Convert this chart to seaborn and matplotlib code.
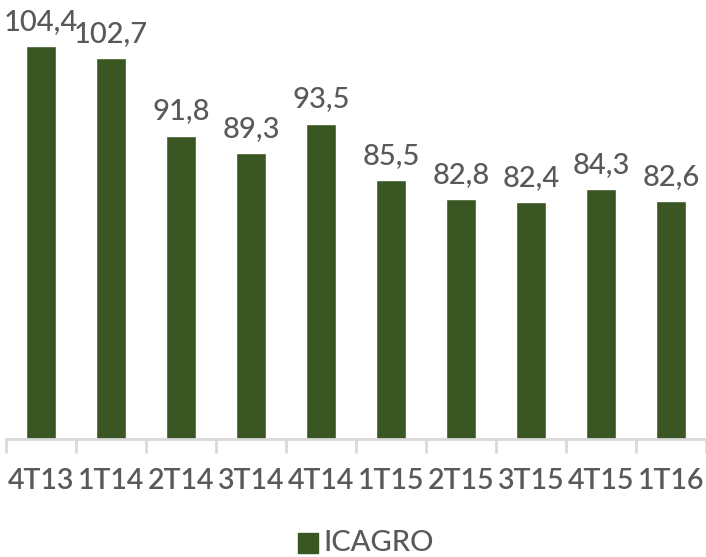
import matplotlib
matplotlib.use("Agg")
import matplotlib.pyplot as plt
import seaborn as sns
import pandas as pd

quarters = ["4T13", "1T14", "2T14", "3T14", "4T14", "1T15", "2T15", "3T15", "4T15", "1T16"]
icagro = [104.4, 102.7, 91.8, 89.3, 93.5, 85.5, 82.8, 82.4, 84.3, 82.6]
series_name = "ICAGRO"

sns.set_theme(style="white")
plt.rcParams["font.family"] = ["Lato", "DejaVu Sans"]

df = pd.DataFrame({"quarter": quarters, "value": icagro, "series": series_name})

bar_color = "#3a5723"
text_color = "#595959"
axis_color = "#d9d9d9"

fig = plt.figure(figsize=(7.06, 5.57), dpi=100)
ax = fig.add_axes([6 / 706, 1 - 439 / 557, 700 / 706, 428 / 557])

sns.barplot(data=df, x="quarter", y="value", hue="series", palette=[bar_color],
            width=0.44, ax=ax, legend=False, saturation=1)

ax.set_ylim(49, 109.4)
ax.set_xlim(-0.5, len(quarters) - 0.5)
ax.set_xlabel("")
ax.set_ylabel("")
ax.set_yticks([])

for s in ["top", "right", "left"]:
    ax.spines[s].set_visible(False)
ax.spines["bottom"].set_color(axis_color)
ax.spines["bottom"].set_linewidth(2)

# category separator ticks below the axis line
ax.set_xticks([i - 0.5 for i in range(len(quarters) + 1)], minor=True)
ax.tick_params(axis="x", which="minor", length=10, width=2, color=axis_color, bottom=True)
ax.tick_params(axis="x", which="major", length=0, pad=21, labelsize=20.5, labelcolor=text_color)
for lbl in ax.get_xticklabels():
    lbl.set_fontweight("semibold")

for i, v in enumerate(icagro):
    ax.text(i, v + 1.6, f"{v:.1f}".replace(".", ","), ha="center", va="bottom",
            fontsize=21, color=text_color, fontweight="medium")

# legend
fig.patches.append(plt.Rectangle((298 / 706, 1 - 553 / 557), 20 / 706, 20 / 557,
                                 transform=fig.transFigure, color=bar_color))
fig.text(323 / 706, 1 - 543 / 557, series_name, ha="left", va="center",
         fontsize=21, color=text_color, fontweight="medium")

fig.savefig("out.png", dpi=100)
